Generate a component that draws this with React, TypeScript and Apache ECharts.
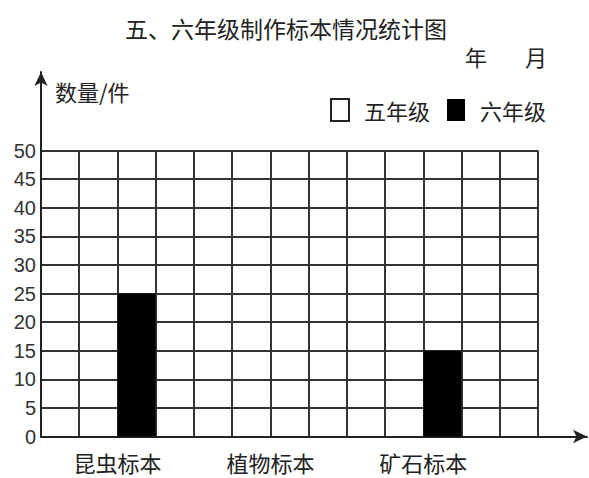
import React, { useEffect, useRef } from "react";
import * as echarts from "echarts";

const categories = ["昆虫标本", "植物标本", "矿石标本"];
const seriesNames = ["五年级", "六年级"];
const fiveValues: (number | null)[] = [null, null, null];
const sixValues: (number | null)[] = [25, null, 15];
const yTicks = { min: 0, max: 50, interval: 5 };
const titleText = "五、六年级制作标本情况统计图";
const yName = "数量/件";

const CJK = "'Noto Sans CJK SC', 'Noto Sans', sans-serif";
const INK = "#222";

export default function App() {
  const ref = useRef<HTMLDivElement>(null);
  useEffect(() => {
    if (!ref.current) return;
    const chart = echarts.init(ref.current, null, { renderer: "svg" });
    // each category spans 4 grid columns; label sits on the boundary between its two bars
    const colsPerCat = 4;
    const totalCols = 13;
    const labelPos = categories.map((_, i) => i * colsPerCat + 2);
    const fiveData = fiveValues.map((v, i) => [labelPos[i] - 0.5, v]);
    const sixData = sixValues.map((v, i) => [labelPos[i] + 0.5, v]);
    const gridW = 497;
    chart.setOption({
      animation: false,
      title: {
        text: titleText,
        left: 120,
        top: 11,
        textStyle: { fontFamily: CJK, fontSize: 23, fontWeight: "normal", color: INK },
      },
      legend: {
        left: 325,
        top: 93,
        itemWidth: 18,
        itemHeight: 22,
        itemGap: 17,
        icon: "rect",
        textStyle: { fontFamily: CJK, fontSize: 22, color: INK, padding: [0, 0, 0, 10] },
        data: [
          { name: seriesNames[0], itemStyle: { color: "#fff", borderColor: INK, borderWidth: 2 } },
          { name: seriesNames[1], itemStyle: { color: "#000" } },
        ],
        selectedMode: false,
      },
      graphic: [
        { type: "text", left: 465, top: 45, style: { text: "年", font: `22px ${CJK}`, fill: INK } },
        { type: "text", left: 525, top: 45, style: { text: "月", font: `22px ${CJK}`, fill: INK } },
        { type: "text", left: 55, top: 80, style: { text: yName, font: `22px ${CJK}`, fill: INK } },
      ],
      grid: [
        { left: 41, top: 150.5, width: gridW, height: 286 },
        { left: 41, top: 72, right: 2, bottom: 41.5 },
      ],
      xAxis: [
        {
          type: "value",
          gridIndex: 0,
          min: 0,
          max: totalCols,
          interval: 1,
          axisLine: { show: false },
          axisTick: { show: false },
          splitLine: { show: true, lineStyle: { color: "#333", width: 2 } },
          axisLabel: {
            margin: 14,
            fontFamily: CJK,
            fontSize: 22,
            color: INK,
            hideOverlap: false,
            showMinLabel: true,
            showMaxLabel: true,
            formatter: (v: number) => {
              const idx = labelPos.indexOf(Math.round(v));
              return idx >= 0 ? categories[idx] : "";
            },
          },
        },
        {
          type: "value",
          gridIndex: 1,
          min: 0,
          max: 1,
          axisLine: {
            show: true,
            symbol: ["none", "arrow"],
            symbolSize: [10, 14],
            lineStyle: { color: INK, width: 2 },
          },
          axisTick: { show: false },
          axisLabel: { show: false },
          splitLine: { show: false },
        },
      ],
      yAxis: [
        {
          type: "value",
          gridIndex: 0,
          min: yTicks.min,
          max: yTicks.max,
          interval: yTicks.interval,
          axisLine: { show: false },
          axisTick: { show: false },
          splitLine: { show: true, lineStyle: { color: "#333", width: 2 } },
          axisLabel: {
            margin: 5,
            fontFamily: "'Liberation Sans', Arial, sans-serif",
            fontSize: 20,
            color: "#333",
            padding: [8, 0, 0, 0],
          },
        },
        {
          type: "value",
          gridIndex: 1,
          min: 0,
          max: 1,
          axisLine: {
            show: true,
            symbol: ["none", "arrow"],
            symbolSize: [10, 14],
            lineStyle: { color: INK, width: 2 },
          },
          axisTick: { show: false },
          axisLabel: { show: false },
          splitLine: { show: false },
        },
      ],
      series: [
        {
          name: seriesNames[0],
          type: "bar",
          xAxisIndex: 0,
          yAxisIndex: 0,
          data: fiveData,
          barWidth: 38,
          barGap: "-100%",
          itemStyle: { color: "#fff", borderColor: INK, borderWidth: 0 },
        },
        {
          name: seriesNames[1],
          type: "bar",
          xAxisIndex: 0,
          yAxisIndex: 0,
          data: sixData,
          barWidth: 38,
          barGap: "-100%",
          itemStyle: { color: "#000" },
        },
      ],
    });
    return () => chart.dispose();
  }, []);
  return (
    <div
      ref={ref}
      style={{ position: "fixed", left: 0, top: 0, width: 589, height: 478, background: "#fff" }}
    />
  );
}
